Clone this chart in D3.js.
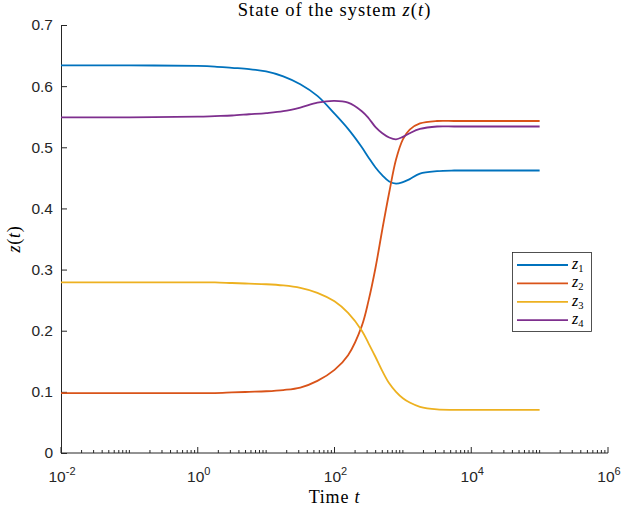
<!DOCTYPE html>
<html>
<head>
<meta charset="utf-8">
<script src="https://cdn.jsdelivr.net/npm/d3@7"></script>
<style>
  body { margin: 0; background: #fff; }
  svg { display: block; }
</style>
</head>
<body>
<div id="chart"></div>
<script>
// values (t on a log axis)
var time = [0.01, 0.1, 1, 1.78, 3.16, 5.62, 10, 17.8, 31.6, 56.2, 100, 158, 251, 316, 398, 501, 631, 794, 1000, 1259, 1778, 3162, 5623, 10000, 100000];
var z1 = [0.634, 0.634, 0.633, 0.632, 0.630, 0.628, 0.624, 0.616, 0.603, 0.584, 0.555, 0.530, 0.500, 0.483, 0.467, 0.454, 0.444, 0.4405, 0.443, 0.448, 0.457, 0.461, 0.462, 0.462, 0.462];
var z2 = [0.098, 0.098, 0.098, 0.098, 0.099, 0.100, 0.101, 0.103, 0.107, 0.118, 0.136, 0.160, 0.208, 0.250, 0.303, 0.366, 0.426, 0.480, 0.513, 0.529, 0.539, 0.543, 0.543, 0.543, 0.543];
var z3 = [0.279, 0.279, 0.279, 0.279, 0.278, 0.277, 0.276, 0.274, 0.270, 0.262, 0.248, 0.229, 0.200, 0.179, 0.157, 0.134, 0.114, 0.100, 0.0895, 0.0825, 0.0756, 0.0713, 0.0706, 0.0705, 0.0705];
var z4 = [0.549, 0.549, 0.550, 0.551, 0.552, 0.554, 0.556, 0.559, 0.565, 0.573, 0.576, 0.573, 0.559, 0.5475, 0.533, 0.523, 0.516, 0.513, 0.517, 0.523, 0.530, 0.534, 0.534, 0.534, 0.534];
var seriesNames = ["1", "2", "3", "4"];
var yTicks = [0, 0.1, 0.2, 0.3, 0.4, 0.5, 0.6, 0.7];
var xTickPowers = [-2, 0, 2, 4, 6];

var colors = ["#0072BD", "#D95319", "#EDB120", "#7E2F8E"];
var axisColor = "#262626";

var width = 632;
var height = 509;
// plot box (window.top is read-only, so no plain "top" here)
var plotL = 61, plotR = 608, plotT = 25, plotB = 453;

var svg = d3.select("#chart")
    .append("svg")
    .attr("width", width)
    .attr("height", height);

var x = d3.scaleLog()
    .domain([1e-2, 1e6])
    .range([plotL, plotR]);

var y = d3.scaleLinear()
    .domain([0, 0.7])
    .range([plotB, plotT]);

// y axis, ticks pointing inward
var yAxis = d3.axisLeft(y)
    .tickValues(yTicks)
    .tickFormat(d3.format("~g"))
    .tickSizeInner(-6)
    .tickSizeOuter(0)
    .tickPadding(8);

var gy = svg.append("g")
    .attr("transform", "translate(" + plotL + ",0)")
    .call(yAxis);
gy.select(".domain").attr("stroke", axisColor);
gy.selectAll(".tick line").attr("stroke", axisColor);
gy.selectAll(".tick text")
    .attr("fill", axisColor)
    .style("font-family", "'Liberation Sans', Arial, sans-serif")
    .style("font-size", "15.5px");

// x axis line
svg.append("line")
    .attr("x1", plotL).attr("x2", plotR)
    .attr("y1", plotB).attr("y2", plotB)
    .attr("stroke", axisColor);

// major + minor log ticks, inward
var minor = [];
for (var p = -2; p < 6; p++) {
    for (var k = 1; k < 10; k++) {
        minor.push(k * Math.pow(10, p));
    }
}
minor.push(1e6);
svg.append("g").selectAll("line")
    .data(minor)
    .enter()
    .append("line")
    .attr("x1", function (d) { return x(d); })
    .attr("x2", function (d) { return x(d); })
    .attr("y1", plotB)
    .attr("y2", function (d) {
        var lg = Math.round(Math.log10(d) * 1000) / 1000;
        return (xTickPowers.indexOf(lg) >= 0) ? plotB - 6 : plotB - 3;
    })
    .attr("stroke", axisColor);

var xl = svg.append("g").selectAll("text")
    .data(xTickPowers)
    .enter()
    .append("text")
    .attr("x", function (d) { return x(Math.pow(10, d)) + 1; })
    .attr("y", 482)
    .attr("text-anchor", "middle")
    .attr("fill", axisColor)
    .style("font-family", "'Liberation Sans', Arial, sans-serif")
    .style("font-size", "15.5px");
xl.append("tspan").text("10");
xl.append("tspan")
    .attr("dy", -7)
    .style("font-size", "11px")
    .text(function (d) { return d; });

// series
var line = d3.line()
    .x(function (d) { return x(d[0]); })
    .y(function (d) { return y(d[1]); })
    .curve(d3.curveCatmullRom.alpha(0.5));

var allSeries = [z1, z2, z3, z4];
svg.append("g").selectAll("path")
    .data(allSeries)
    .enter()
    .append("path")
    .attr("d", function (s) { return line(d3.zip(time, s)); })
    .attr("fill", "none")
    .attr("stroke", function (s, i) { return colors[i]; })
    .attr("stroke-width", 1.8);

var serif = "'Liberation Serif', 'Times New Roman', serif";

// title
var title = svg.append("text")
    .attr("x", (plotL + plotR) / 2)
    .attr("y", 16)
    .attr("text-anchor", "middle")
    .attr("fill", "#000")
    .style("font-family", serif)
    .style("font-size", "18.5px")
    .style("letter-spacing", "1px");
title.append("tspan").text("State of the system ");
title.append("tspan").style("font-style", "italic").text("z");
title.append("tspan").text("(");
title.append("tspan").style("font-style", "italic").text("t");
title.append("tspan").text(")");

// x label
var xlab = svg.append("text")
    .attr("x", (plotL + plotR) / 2)
    .attr("y", 503)
    .attr("text-anchor", "middle")
    .style("font-family", serif)
    .style("font-size", "18px")
    .style("letter-spacing", "0.8px");
xlab.append("tspan").text("Time ");
xlab.append("tspan").style("font-style", "italic").text("t");

// y label
var ylab = svg.append("text")
    .attr("transform", "translate(20," + ((plotT + plotB) / 2) + ") rotate(-90)")
    .attr("text-anchor", "middle")
    .style("font-family", serif)
    .style("font-size", "18px")
    .style("letter-spacing", "0.8px");
ylab.append("tspan").style("font-style", "italic").text("z");
ylab.append("tspan").text("(");
ylab.append("tspan").style("font-style", "italic").text("t");
ylab.append("tspan").text(")");

// legend
var legend = svg.append("g").attr("transform", "translate(512,252)");
legend.append("rect")
    .attr("x", 0.5).attr("y", 0.5)
    .attr("width", 79).attr("height", 79)
    .attr("fill", "#fff")
    .attr("stroke", axisColor)
    .attr("stroke-width", 0.8);
var rows = legend.selectAll("g.row")
    .data(seriesNames)
    .enter()
    .append("g")
    .attr("class", "row")
    .attr("transform", function (d, i) { return "translate(0," + (13 + i * 18.4) + ")"; });
rows.append("line")
    .attr("x1", 5).attr("x2", 56)
    .attr("stroke", function (d, i) { return colors[i]; })
    .attr("stroke-width", 1.8);
var lt = rows.append("text")
    .attr("x", 60)
    .attr("y", 4)
    .style("font-family", serif)
    .style("font-size", "16px");
lt.append("tspan").style("font-style", "italic").text("z");
lt.append("tspan")
    .attr("dy", 3)
    .style("font-size", "10.5px")
    .text(function (d) { return d; });
</script>
</body>
</html>
